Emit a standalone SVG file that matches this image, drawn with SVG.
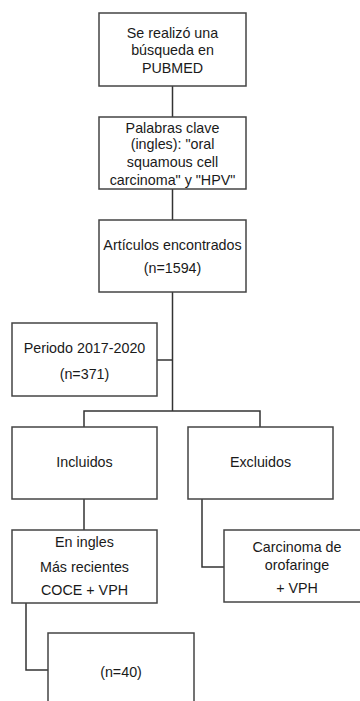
<svg xmlns="http://www.w3.org/2000/svg" width="360" height="701" viewBox="0 0 360 701">
<style>
.box{fill:#fff;stroke:#444;stroke-width:1.5}
.ln{fill:none;stroke:#333;stroke-width:1.5}
text{font-family:"Liberation Sans",Arial,sans-serif;font-size:14.3px;fill:#1a1a1a;text-anchor:middle}
</style>
<rect width="360" height="701" fill="#fff"/>
<g id="connectors">
<line class="ln" x1="172.5" y1="86" x2="172.5" y2="117"/>
<line class="ln" x1="172.5" y1="189" x2="172.5" y2="220"/>
<line class="ln" x1="172.5" y1="292" x2="172.5" y2="411"/>
<line class="ln" x1="157" y1="360" x2="172.5" y2="360"/>
<polyline class="ln" points="84,427 84,411 260,411 260,427"/>
<line class="ln" x1="84" y1="499" x2="84" y2="530"/>
<polyline class="ln" points="202,499 202,567 224,567"/>
<polyline class="ln" points="26,603 26,670 48,670"/>
</g>
<g id="n1"><rect class="box" x="99" y="13" width="147" height="73"/>
<text x="172.5" y="38">Se realizó una</text><text x="172.5" y="55">búsqueda en</text><text x="172.5" y="73">PUBMED</text></g>
<g id="n2"><rect class="box" x="99" y="117" width="147" height="72"/>
<text x="172.5" y="133">Palabras clave</text><text x="172.5" y="149">(ingles): "oral</text><text x="172.5" y="167">squamous cell</text><text x="172.5" y="185">carcinoma" y "HPV"</text></g>
<g id="n3"><rect class="box" x="99" y="220" width="147" height="72"/>
<text x="172.5" y="250">Artículos encontrados</text><text x="172.5" y="273">(n=1594)</text></g>
<g id="n4"><rect class="box" x="12" y="323" width="145" height="73"/>
<text x="84.5" y="353">Periodo 2017-2020</text><text x="84.5" y="379">(n=371)</text></g>
<g id="n5"><rect class="box" x="12" y="427" width="145" height="72"/>
<text x="84.5" y="467">Incluidos</text></g>
<g id="n6"><rect class="box" x="188" y="427" width="145" height="72"/>
<text x="260.5" y="467">Excluidos</text></g>
<g id="n7"><rect class="box" x="12" y="530" width="145" height="73"/>
<text x="84.5" y="547">En ingles</text><text x="84.5" y="572">Más recientes</text><text x="84.5" y="595">COCE + VPH</text></g>
<g id="n8"><rect class="box" x="224" y="530" width="145" height="72"/>
<text x="297" y="552">Carcinoma de</text><text x="297" y="570">orofaringe</text><text x="297" y="593">+ VPH</text></g>
<g id="n9"><rect class="box" x="48" y="633" width="146" height="80"/>
<text x="121" y="677">(n=40)</text></g>
</svg>
